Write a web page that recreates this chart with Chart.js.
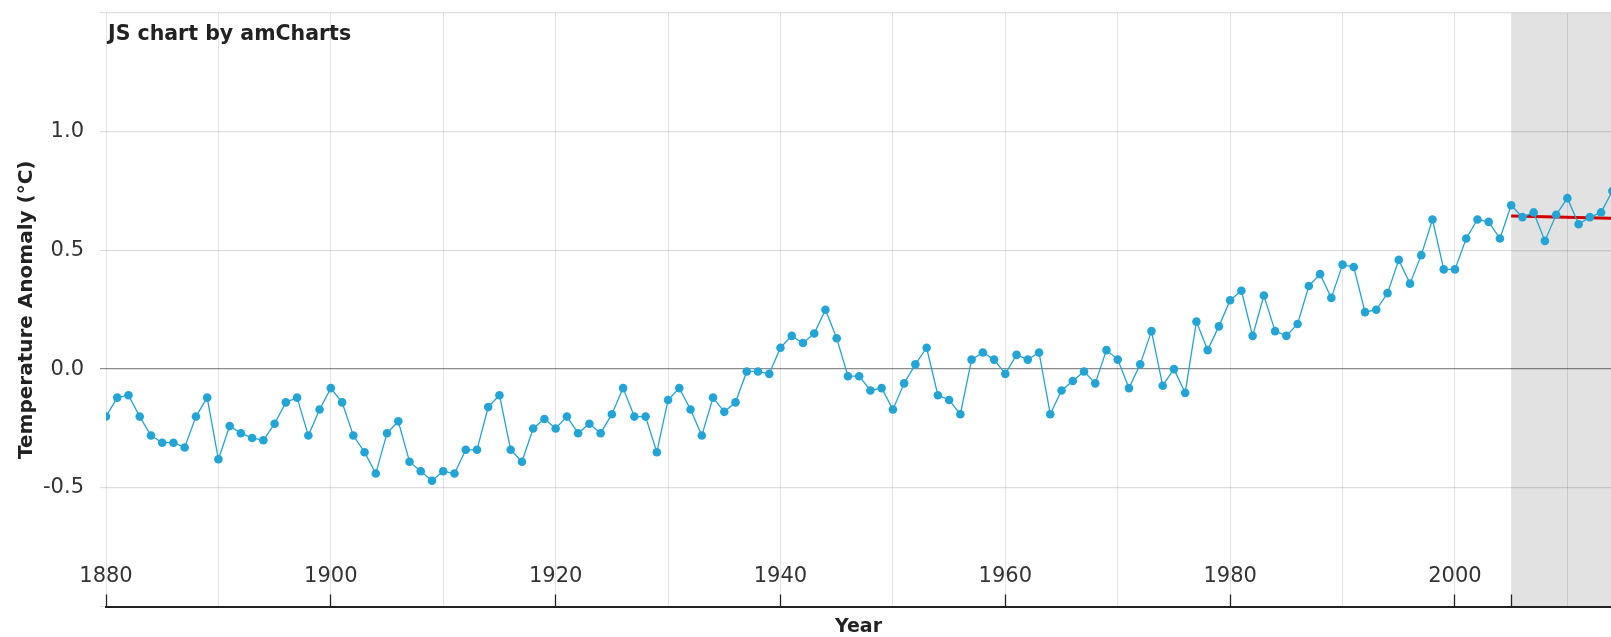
<!DOCTYPE html>
<html>
<head>
<meta charset="utf-8">
<script src="https://cdn.jsdelivr.net/npm/chart.js@4.4.1/dist/chart.umd.min.js"></script>
<style>
  html, body { margin: 0; padding: 0; background: #ffffff; }
  #wrap { width: 1611px; height: 637px; position: relative; }
</style>
</head>
<body>
<div id="wrap"><canvas id="chart" width="1611" height="637"></canvas></div>
<script>
// Global land-ocean temperature anomaly, annual means
const years = [];
for (let y = 1880; y <= 2014; y++) years.push(y);

const anomalies = [
  -0.20, -0.12, -0.11, -0.20, -0.28, -0.31, -0.31, -0.33, -0.20, -0.12, // 1880s
  -0.38, -0.24, -0.27, -0.29, -0.30, -0.23, -0.14, -0.12, -0.28, -0.17, // 1890s
  -0.08, -0.14, -0.28, -0.35, -0.44, -0.27, -0.22, -0.39, -0.43, -0.47, // 1900s
  -0.43, -0.44, -0.34, -0.34, -0.16, -0.11, -0.34, -0.39, -0.25, -0.21, // 1910s
  -0.25, -0.20, -0.27, -0.23, -0.27, -0.19, -0.08, -0.20, -0.20, -0.35, // 1920s
  -0.13, -0.08, -0.17, -0.28, -0.12, -0.18, -0.14, -0.01, -0.01, -0.02, // 1930s
   0.09,  0.14,  0.11,  0.15,  0.25,  0.13, -0.03, -0.03, -0.09, -0.08, // 1940s
  -0.17, -0.06,  0.02,  0.09, -0.11, -0.13, -0.19,  0.04,  0.07,  0.04, // 1950s
  -0.02,  0.06,  0.04,  0.07, -0.19, -0.09, -0.05, -0.01, -0.06,  0.08, // 1960s
   0.04, -0.08,  0.02,  0.16, -0.07,  0.00, -0.10,  0.20,  0.08,  0.18, // 1970s
   0.29,  0.33,  0.14,  0.31,  0.16,  0.14,  0.19,  0.35,  0.40,  0.30, // 1980s
   0.44,  0.43,  0.24,  0.25,  0.32,  0.46,  0.36,  0.48,  0.63,  0.42, // 1990s
   0.42,  0.55,  0.63,  0.62,  0.55,  0.69,  0.64,  0.66,  0.54,  0.65, // 2000s
   0.72,  0.61,  0.64,  0.66,  0.75                                      // 2010s
];

// Trend since 2005
const trendYears = [2005, 2014];
const trendValues = [0.645, 0.635];

// Highlighted period
const shadeFrom = 2005;
const shadeTo = 2014;

// Axis ticks
const gridYears = [1880, 1890, 1900, 1910, 1920, 1930, 1940, 1950, 1960, 1970, 1980, 1990, 2000, 2005, 2010];
const labelYears = [1880, 1900, 1920, 1940, 1960, 1980, 2000];
const markYears = [1880, 1900, 1920, 1940, 1960, 1980, 2000, 2005];
const yGridValues = [-1.0, -0.5, 0, 0.5, 1.0, 1.5];
const yTickLabels = ['-0.5', '0.0', '0.5', '1.0'];

const FONT = "'DejaVu Sans', Verdana, sans-serif";

const shadePlugin = {
  id: 'periodShade',
  beforeDraw(chart) {
    const { ctx, chartArea, scales } = chart;
    const x0 = Math.max(chartArea.left, scales.x.getPixelForValue(shadeFrom));
    const x1 = Math.min(chartArea.right, scales.x.getPixelForValue(shadeTo));
    ctx.save();
    ctx.fillStyle = '#e2e2e2';
    ctx.fillRect(x0, chartArea.top, x1 - x0, chartArea.bottom - chartArea.top);
    ctx.restore();
  }
};

const creditPlugin = {
  id: 'creditText',
  afterDraw(chart) {
    const { ctx, chartArea } = chart;
    ctx.save();
    ctx.font = "bold 20.5px " + FONT;
    ctx.fillStyle = '#222222';
    ctx.textBaseline = 'middle';
    ctx.textAlign = 'left';
    ctx.fillText('JS chart by amCharts', chartArea.left + 2, chartArea.top + 22);
    ctx.restore();
  }
};

function noPadding(scale) {
  scale.paddingTop = 0;
  scale.paddingBottom = 0;
  scale.paddingLeft = 0;
  scale.paddingRight = 0;
}

new Chart(document.getElementById('chart'), {
  type: 'line',
  data: {
    datasets: [
      {
        label: 'Temperature Anomaly',
        data: years.map((y, i) => ({ x: y, y: anomalies[i] })),
        borderColor: '#22a5d6',
        backgroundColor: '#22a5d6',
        borderWidth: 1.3,
        pointRadius: 4.3,
        pointBorderWidth: 0,
        pointBackgroundColor: '#22a5d6',
        tension: 0,
        order: 1
      },
      {
        label: 'Trend',
        data: trendYears.map((y, i) => ({ x: y, y: trendValues[i] })),
        borderColor: '#d40000',
        borderWidth: 3,
        pointRadius: 0,
        tension: 0,
        order: 2
      }
    ]
  },
  plugins: [shadePlugin, creditPlugin],
  options: {
    responsive: false,
    animation: false,
    events: [],
    layout: { autoPadding: false, padding: { top: 13, right: 0, bottom: 0, left: 0 } },
    plugins: {
      legend: { display: false },
      tooltip: { enabled: false },
      title: { display: false }
    },
    scales: {
      x: {
        type: 'linear',
        min: 1880,
        max: 2013.88,
        afterBuildTicks(scale) {
          scale.ticks = gridYears.map(v => ({ value: v }));
        },
        afterFit(scale) { scale.height = 30.5; noPadding(scale); },
        ticks: {
          autoSkip: false,
          maxRotation: 0,
          minRotation: 0,
          mirror: true,
          padding: 17,
          color: '#333333',
          font: { family: FONT, size: 21, lineHeight: 1.2 },
          callback(value) { return labelYears.includes(value) ? String(value) : ''; }
        },
        grid: {
          drawOnChartArea: true,
          tickLength: -12,
          color(ctx) {
            if (ctx.tick && ctx.tick.value === shadeFrom) return 'rgba(0,0,0,0)';
            return 'rgba(0,0,0,0.11)';
          },
          tickColor(ctx) {
            return ctx.tick && markYears.includes(ctx.tick.value) ? '#222222' : 'rgba(0,0,0,0)';
          },
          tickWidth: 1.3
        },
        border: { display: true, color: '#222222', width: 2 },
        title: {
          display: true,
          text: 'Year',
          color: '#222222',
          font: { family: FONT, size: 19, weight: 'bold', lineHeight: 1 },
          padding: { top: 0, bottom: 0 }
        }
      },
      y: {
        type: 'linear',
        min: -1.0,
        max: 1.5,
        afterBuildTicks(scale) {
          scale.ticks = yGridValues.map(v => ({ value: v }));
        },
        afterFit(scale) { scale.width = 106; noPadding(scale); },
        ticks: {
          padding: 16,
          color: '#333333',
          font: { family: FONT, size: 21 },
          callback(value) {
            const s = value.toFixed(1);
            return yTickLabels.includes(s) ? s : '';
          }
        },
        grid: {
          tickLength: 6,
          color(ctx) {
            if (ctx.tick && ctx.tick.value === 0) return 'rgba(0,0,0,0.45)';
            return 'rgba(0,0,0,0.13)';
          },
          lineWidth: 1.2
        },
        border: { display: false },
        title: {
          display: true,
          text: 'Temperature Anomaly (°C)',
          color: '#222222',
          font: { family: FONT, size: 20, weight: 'bold', lineHeight: 1 },
          padding: { top: 17, bottom: 0 }
        }
      }
    }
  }
});
</script>
</body>
</html>
